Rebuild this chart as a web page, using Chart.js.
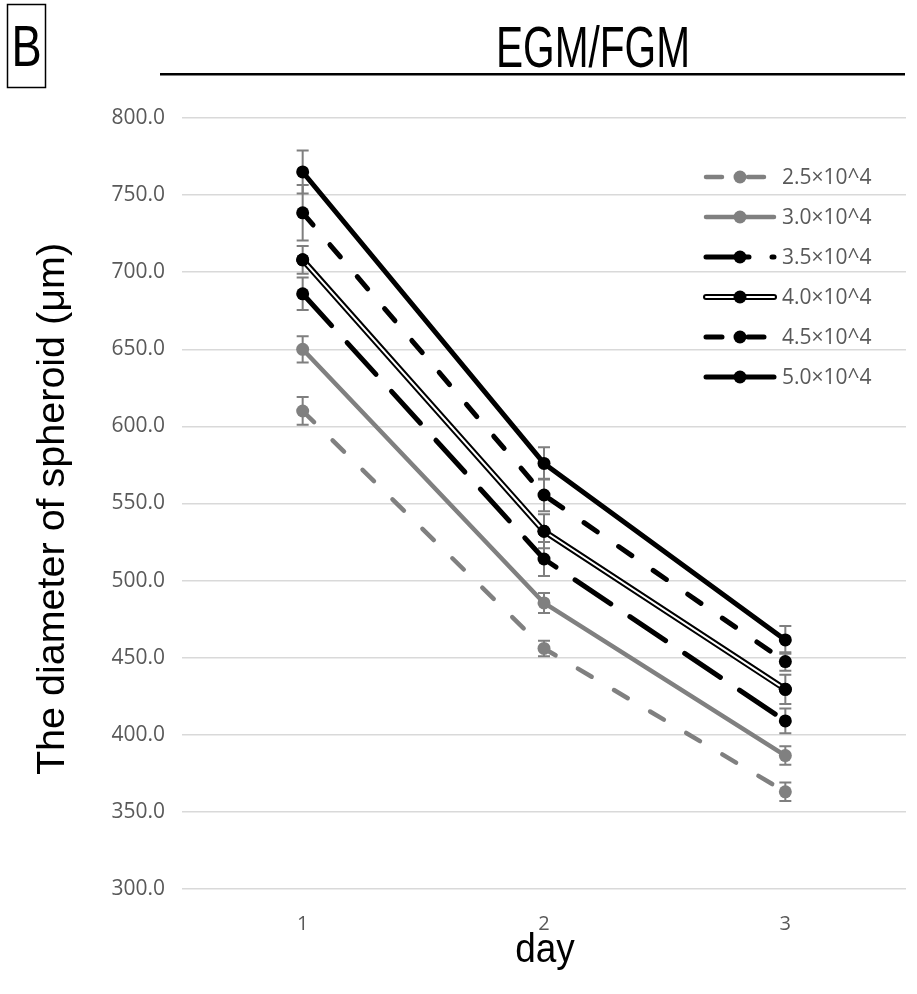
<!DOCTYPE html>
<html>
<head>
<meta charset="utf-8">
<title>EGM/FGM</title>
<script src="https://cdn.jsdelivr.net/npm/chart.js@4.4.1/dist/chart.umd.min.js"></script>
<style>
    html, body { margin: 0; padding: 0; background: #fff; }
    #wrap { position: relative; width: 917px; height: 994px; }
</style>
</head>
<body>
<div id="wrap"><canvas id="chart"></canvas></div>
<script>
// data (mean diameter, um, and error bar half-length)
const days = ['1', '2', '3'];
const seriesNames = ['2.5×10^4', '3.0×10^4', '3.5×10^4', '4.0×10^4', '4.5×10^4', '5.0×10^4'];

const d25 = [610, 456, 363];
const d30 = [650, 485.5, 386.5];
const d35 = [686, 514, 409];
const d40 = [708, 532, 429.5];
const d45 = [738.5, 555.5, 447.5];
const d50 = [765, 576, 461.5];

const e25 = [9, 5, 6];
const e30 = [8.5, 6.5, 6];
const e35 = [10.5, 11, 8];
const e40 = [9, 11, 9.5];
const e45 = [18, 10.5, 6];
const e50 = [14, 10.5, 9];

const yMin = 300;
const yMax = 800;
const yStep = 50;

const values = [d25, d30, d35, d40, d45, d50];
const errors = [e25, e30, e35, e40, e45, e50];

// line looks, same order as the series
const looks = [
    { color: '#808080', width: 4.5, dash: [16, 26] },
    { color: '#808080', width: 4.5, dash: [] },
    { color: '#000000', width: 5, dash: [43, 23] },
    { color: '#000000', width: 6, dash: [], double: true },
    { color: '#000000', width: 5, dash: [16, 26] },
    { color: '#000000', width: 5, dash: [] }
];

const TEXT_FONT = '"Open Sans", "Noto Sans", sans-serif';
const TITLE_FONT = '"Liberation Sans", Arial, sans-serif';

const datasets = values.map((vals, i) => ({
    label: seriesNames[i],
    data: vals,
    errors: errors[i],
    doubleLine: !!looks[i].double,
    borderColor: looks[i].color,
    backgroundColor: looks[i].color,
    borderWidth: looks[i].width,
    borderDash: looks[i].dash,
    borderCapStyle: 'round',
    borderJoinStyle: 'round',
    pointRadius: 6.5,
    pointBorderWidth: 0,
    pointBackgroundColor: looks[i].color,
    tension: 0,
    fill: false
}));

// vertical error bars with caps, under the lines
const errorBars = {
    id: 'errorBars',
    beforeDatasetsDraw(chart) {
        const ctx = chart.ctx;
        const y = chart.scales.y;
        ctx.save();
        ctx.strokeStyle = '#7f7f7f';
        ctx.lineWidth = 2;
        chart.data.datasets.forEach((ds, i) => {
            chart.getDatasetMeta(i).data.forEach((pt, j) => {
                const top = y.getPixelForValue(ds.data[j] + ds.errors[j]);
                const bot = y.getPixelForValue(ds.data[j] - ds.errors[j]);
                ctx.beginPath();
                ctx.moveTo(pt.x, top);
                ctx.lineTo(pt.x, bot);
                ctx.moveTo(pt.x - 6, top);
                ctx.lineTo(pt.x + 6, top);
                ctx.moveTo(pt.x - 6, bot);
                ctx.lineTo(pt.x + 6, bot);
                ctx.stroke();
            });
        });
        ctx.restore();
    }
};

// white core for the double line series, then markers again on top
const doubleLine = {
    id: 'doubleLine',
    afterDatasetDraw(chart, args) {
        const ds = chart.data.datasets[args.index];
        if (!ds.doubleLine) return;
        const pts = args.meta.data;
        const ctx = chart.ctx;
        ctx.save();
        ctx.strokeStyle = '#ffffff';
        ctx.lineWidth = 2;
        ctx.lineJoin = 'round';
        ctx.beginPath();
        pts.forEach((p, k) => k === 0 ? ctx.moveTo(p.x, p.y) : ctx.lineTo(p.x, p.y));
        ctx.stroke();
        ctx.fillStyle = ds.borderColor;
        pts.forEach(p => {
            ctx.beginPath();
            ctx.arc(p.x, p.y, 6.5, 0, Math.PI * 2);
            ctx.fill();
        });
        ctx.restore();
    }
};

// legend, headline, panel letter and axis titles
const decorations = {
    id: 'decorations',
    afterDraw(chart) {
        const ctx = chart.ctx;
        ctx.save();

        looks.forEach((lk, i) => {
            const yy = 177 + i * 40;
            ctx.strokeStyle = lk.color;
            ctx.lineWidth = lk.width;
            ctx.lineCap = 'round';
            ctx.setLineDash(lk.dash);
            ctx.beginPath();
            ctx.moveTo(706, yy);
            ctx.lineTo(774, yy);
            ctx.stroke();
            ctx.setLineDash([]);
            if (lk.double) {
                ctx.strokeStyle = '#ffffff';
                ctx.lineWidth = 2;
                ctx.beginPath();
                ctx.moveTo(706, yy);
                ctx.lineTo(774, yy);
                ctx.stroke();
            }
            ctx.fillStyle = lk.color;
            ctx.beginPath();
            ctx.arc(740, yy, 6.5, 0, Math.PI * 2);
            ctx.fill();

            ctx.fillStyle = '#595959';
            ctx.font = '21px ' + TEXT_FONT;
            ctx.textAlign = 'left';
            ctx.textBaseline = 'middle';
            ctx.fillText(seriesNames[i], 782, yy + 1);
        });

        ctx.fillStyle = '#000';
        ctx.textAlign = 'center';
        ctx.textBaseline = 'alphabetic';

        // headline
        ctx.save();
        ctx.translate(593, 67);
        ctx.scale(0.7, 1);
        ctx.font = '58px ' + TITLE_FONT;
        ctx.fillText('EGM/FGM', 0, 0);
        ctx.restore();
        ctx.fillRect(160, 73, 745, 2.5);

        // panel letter
        ctx.strokeStyle = '#000';
        ctx.lineWidth = 1.5;
        ctx.strokeRect(7.5, 4.5, 38, 83);
        ctx.save();
        ctx.translate(26.5, 66);
        ctx.scale(0.78, 1);
        ctx.font = '58px ' + TITLE_FONT;
        ctx.fillText('B', 0, 0);
        ctx.restore();

        // y axis title
        ctx.save();
        ctx.translate(64, 509);
        ctx.rotate(-Math.PI / 2);
        ctx.font = '39.5px ' + TITLE_FONT;
        ctx.fillText('The diameter of spheroid (μm)', 0, 0);
        ctx.restore();

        // x axis title
        ctx.save();
        ctx.translate(545, 962);
        ctx.scale(0.9, 1);
        ctx.font = '41px ' + TITLE_FONT;
        ctx.fillText('day', 0, 0);
        ctx.restore();

        ctx.restore();
    }
};

new Chart(document.getElementById('chart'), {
    type: 'line',
    data: { labels: days, datasets: datasets },
    options: {
        responsive: true,
        maintainAspectRatio: false,
        animation: false,
        events: [],
        layout: { padding: { top: 118, right: 11, bottom: 0, left: 0 } },
        plugins: {
            legend: { display: false },
            tooltip: { enabled: false }
        },
        scales: {
            x: {
                offset: true,
                grid: { display: false, drawTicks: false },
                border: { display: false },
                ticks: {
                    color: '#595959',
                    font: { family: TEXT_FONT, size: 20 },
                    padding: 23
                },
                afterFit(scale) { scale.height = 105; }
            },
            y: {
                min: yMin,
                max: yMax,
                grid: { color: '#d9d9d9', lineWidth: 1.5, drawTicks: false },
                border: { display: false },
                ticks: {
                    stepSize: yStep,
                    color: '#595959',
                    font: { family: TEXT_FONT, size: 21 },
                    padding: 17,
                    callback: v => Number(v).toFixed(1)
                },
                afterFit(scale) { scale.width = 182; }
            }
        }
    },
    plugins: [errorBars, doubleLine, decorations]
});
</script>
</body>
</html>
